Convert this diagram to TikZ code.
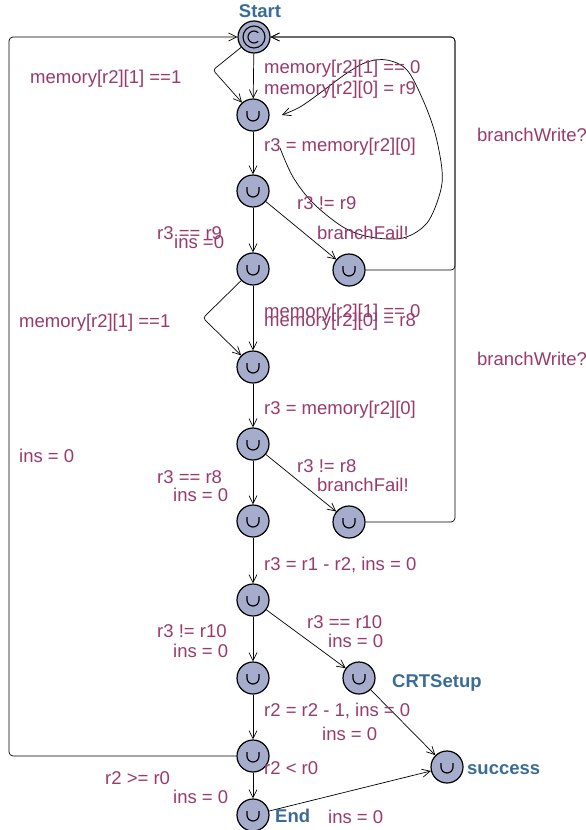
\documentclass[tikz,border=0pt]{standalone}
\usepackage{fontspec}
\setmainfont{Liberation Sans}
\usetikzlibrary{arrows.meta}
\definecolor{lblcol}{RGB}{152,58,108}
\definecolor{loccol}{RGB}{58,108,150}
\definecolor{locfill}{RGB}{166,172,204}
\begin{document}
\begin{tikzpicture}[x=1pt,y=1pt,
  loc/.style={circle,draw=black,line width=1.2pt,fill=locfill,minimum size=32pt,inner sep=0pt,
    path picture={\draw[line width=1.2pt]
      ([shift={(-6pt,4pt)}]path picture bounding box.center) -- ++(0pt,-4pt)
      arc[start angle=180,end angle=360,radius=6pt] -- ++(0pt,4pt);}},
  comloc/.style={circle,draw=black,line width=1.2pt,fill=locfill,minimum size=32pt,inner sep=0pt,
    path picture={\draw[line width=1.1pt] (path picture bounding box.center) circle[radius=11pt];
      \draw[line width=1.1pt] ([shift={(45:6pt)}]path picture bounding box.center)
      arc[start angle=45,end angle=315,radius=6pt];}},
  trans/.style={draw=black,line width=0.7pt,-{Straight Barb[length=8pt,width=8pt]}},
  lbl/.style={text=lblcol,anchor=base west,inner sep=0pt,font=\fontsize{18.5}{20}\selectfont},
  locname/.style={text=loccol,anchor=base west,inner sep=0pt,font=\bfseries\fontsize{18.5}{20}\selectfont}]
\useasboundingbox (0,0) rectangle (586,-830);

% locations
\node[comloc] (start) at (254,-37) {};
\node[loc] (n1) at (253,-115) {};
\node[loc] (n2) at (253,-191) {};
\node[loc] (n3) at (253,-269) {};
\node[loc] (f1) at (349,-270) {};
\node[loc] (n4) at (253,-367) {};
\node[loc] (n5) at (253,-444) {};
\node[loc] (n6) at (253,-521) {};
\node[loc] (f2) at (349,-522) {};
\node[loc] (n7) at (253,-600) {};
\node[loc] (n8) at (253,-678) {};
\node[loc] (crt) at (359,-678) {};
\node[loc] (n9) at (253,-756) {};
\node[loc] (endl) at (253,-815) {};
\node[loc] (succ) at (447,-767) {};

% location names
\node[text=loccol,inner sep=0pt,font=\bfseries\fontsize{18.5}{20}\selectfont,anchor=base] (nmstart) at (260,-17) {Start};
\node[locname] (nmcrt) at (392,-687) {CRTSetup};
\node[locname] (nmend) at (275,-822) {End};
\node[locname] (nmsucc) at (467,-774) {success};

% nails and corners
\coordinate (nailA) at (213,-70);
\coordinate (nailB) at (203,-318);
\coordinate (cTop) at (455,-37);
\coordinate (cR1) at (455,-270);
\coordinate (cR2) at (455,-522);
\coordinate (cL1) at (9,-756);
\coordinate (cL2) at (9,-37);

% transitions
\draw[trans] (start) -- (n1);
\draw[trans,rounded corners=3pt] (start) -- (nailA) -- (n1);
\draw[trans] (n1) -- (n2);
\draw[trans] (n2) -- (n3);
\draw[trans] (n2) -- (f1);
\draw[trans,rounded corners=4pt] (f1) -- (cR1) -- (cTop) -- (start);
\draw[trans] (n3) -- (n4);
\draw[trans,rounded corners=3pt] (n3) -- (nailB) -- (n4);
\draw[trans] (n4) -- (n5);
\draw[trans] (n5) -- (n6);
\draw[trans] (n5) -- (f2);
\draw[trans,rounded corners=4pt] (f2) -- (cR2) -- (cTop) -- (start);
\draw[trans] (n6) -- (n7);
\draw[trans] (n7) -- (n8);
\draw[trans] (n7) -- (crt);
\draw[trans] (n8) -- (n9);
\draw[trans] (crt) -- (succ);
\draw[trans] (n9) -- (endl);
\draw[trans,rounded corners=4pt] (n9) -- (cL1) -- (cL2) -- (start);
\draw[trans] (endl) -- (succ);
% looping curve
\draw[trans] plot[smooth,tension=0.55] coordinates {(280,-148) (293,-177) (313,-203) (343,-227) (370,-237) (403,-238) (427,-223) (440,-193) (442,-170) (435,-133) (423,-100) (407,-70) (387,-60) (367,-62) (347,-73) (320,-93) (300,-107) (282,-115)};

% transition labels
\node[lbl] (l1) at (30,-83) {memory[r2][1] ==1};
\node[lbl] (l2) at (264,-73) {memory[r2][1] == 0};
\node[lbl] (l3) at (264,-94) {memory[r2][0] = r9};
\node[lbl] (l4) at (264,-151) {r3 = memory[r2][0]};
\node[lbl] (l5) at (297,-209) {r3 != r9};
\node[lbl] (l6) at (317,-239) {branchFail!};
\node[lbl] (l7) at (157,-239) {r3 == r9};
\node[lbl] (l8) at (174,-248) {ins =0};
\node[lbl] (l9) at (477,-141) {branchWrite?};
\node[lbl] (l10) at (19,-327) {memory[r2][1] ==1};
\node[lbl] (l11) at (264,-317) {memory[r2][1] == 0};
\node[lbl] (l12) at (264,-326) {memory[r2][0] = r8};
\node[lbl] (l13) at (477,-365) {branchWrite?};
\node[lbl] (l14) at (264,-414) {r3 = memory[r2][0]};
\node[lbl] (l15) at (19,-462) {ins = 0};
\node[lbl] (l16) at (297,-472) {r3 != r8};
\node[lbl] (l17) at (317,-491) {branchFail!};
\node[lbl] (l18) at (157,-483) {r3 == r8};
\node[lbl] (l19) at (173,-501) {ins = 0};
\node[lbl] (l20) at (264,-570) {r3 = r1 - r2, ins = 0};
\node[lbl] (l21) at (307,-628) {r3 == r10};
\node[lbl] (l22) at (328,-647) {ins = 0};
\node[lbl] (l23) at (157,-637) {r3 != r10};
\node[lbl] (l24) at (173,-657) {ins = 0};
\node[lbl] (l25) at (264,-716) {r2 = r2 - 1, ins = 0};
\node[lbl] (l26) at (322,-740) {ins = 0};
\node[lbl] (l27) at (264,-774) {r2 < r0};
\node[lbl] (l28) at (105,-784) {r2 >= r0};
\node[lbl] (l29) at (173,-803) {ins = 0};
\node[lbl] (l30) at (328,-823) {ins = 0};
\end{tikzpicture}
\end{document}
